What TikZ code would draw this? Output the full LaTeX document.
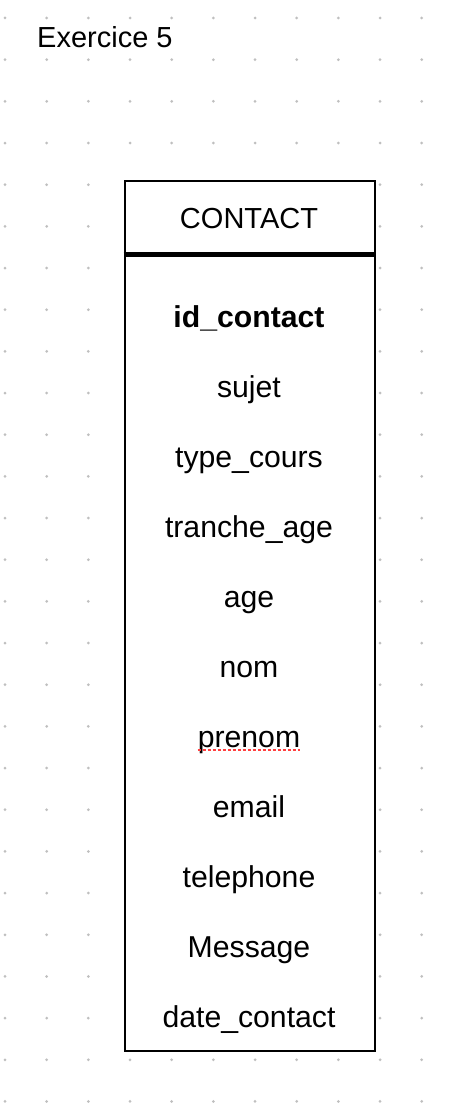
\documentclass[tikz,border=0pt]{standalone}
\usepackage{fontspec}
\setmainfont{Liberation Sans}
\begin{document}
\begin{tikzpicture}[x=1pt,y=-1pt,
  txt/.style={inner sep=0pt,anchor=base,font=\fontsize{29}{34}\selectfont},
  attr/.style={inner sep=0pt,anchor=base,font=\fontsize{30.2}{35}\selectfont},
  griddot/.style={fill=black!25,draw=none},
  entity/.style={draw=black,line width=2pt,fill=white,inner sep=0pt,anchor=north west,minimum width=250pt,minimum height=870pt},
  sepline/.style={line width=4.5pt},
  spell/.style={draw=red!75!white,line width=2pt,dash pattern=on 3pt off 2pt}]
\useasboundingbox (0,0) rectangle (460,1110);
\fill[white] (0,0) rectangle (460,1110);
% background dot grid
\foreach \i in {0,...,10}{
  \foreach \j in {0,...,26}{
    \fill[griddot] ({5+41.67*\i},{18+41.67*\j}) circle (1.5pt);
  }
}
\node[txt,anchor=base west] (title) at (37,47.3) {Exercice 5};
\node[entity] (contact) at (123.5,180) {};
\coordinate (sepL) at ([yshift=-74.5pt]contact.north west);
\coordinate (sepR) at ([yshift=-74.5pt]contact.north east);
\draw[sepline] (sepL) -- (sepR);
\node[txt] (head) at (249,228.3) {CONTACT};
\node[attr,font=\fontsize{30.2}{35}\selectfont\bfseries] (a0) at (249,327.5) {id\_contact};
\node[attr] (a1) at (249,397.5) {sujet};
\node[attr] (a2) at (249,467.5) {type\_cours};
\node[attr] (a3) at (249,537.5) {tranche\_age};
\node[attr] (a4) at (249,607.5) {age};
\node[attr] (a5) at (249,677.5) {nom};
\node[attr] (a6) at (249,747.5) {prenom};
\node[attr] (a7) at (249,817.5) {email};
\node[attr] (a8) at (249,887.5) {telephone};
\node[attr] (a9) at (249,957.5) {Message};
\node[attr] (a10) at (249,1027.5) {date\_contact};
\coordinate (spA) at ([yshift=-2pt]a6.base west);
\coordinate (spB) at ([yshift=-2pt]a6.base east);
\draw[spell] (spA) -- (spB);
\end{tikzpicture}
\end{document}
